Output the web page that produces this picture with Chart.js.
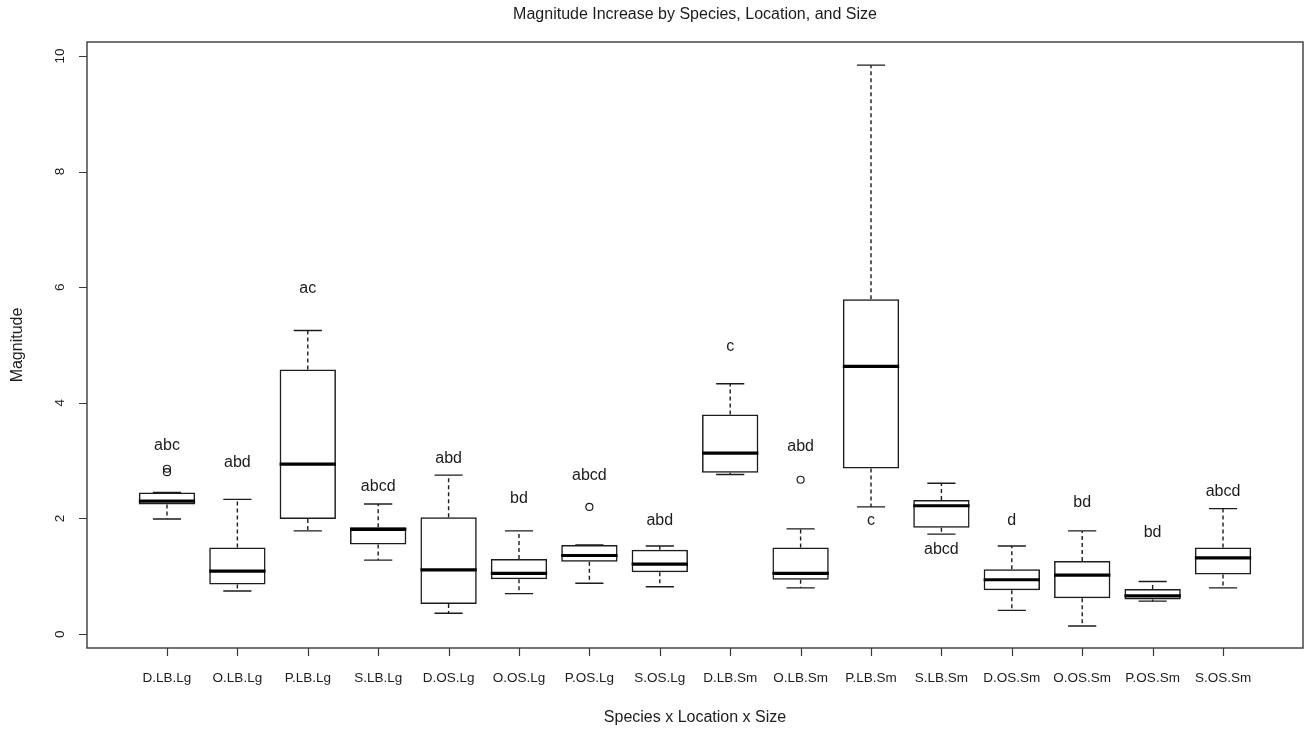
<!DOCTYPE html>
<html>
<head>
<meta charset="utf-8">
<script src="https://cdn.jsdelivr.net/npm/chart.js@4.4.1/dist/chart.umd.min.js"></script>
<style>
  html, body { margin: 0; padding: 0; background: #ffffff; }
  #wrap { width: 1311px; height: 730px; }
  canvas { display: block; }
</style>
</head>
<body>
<div id="wrap"><canvas id="chart" width="1311" height="730"></canvas></div>
<script>
// Groups: species x location x size
const categories = ["D.LB.Lg", "O.LB.Lg", "P.LB.Lg", "S.LB.Lg", "D.OS.Lg", "O.OS.Lg", "P.OS.Lg", "S.OS.Lg",
                    "D.LB.Sm", "O.LB.Sm", "P.LB.Sm", "S.LB.Sm", "D.OS.Sm", "O.OS.Sm", "P.OS.Sm", "S.OS.Sm"];

// Five-number summaries per group
const whiskerLow  = [1.99, 0.745, 1.785, 1.28, 0.36, 0.70, 0.88, 0.82, 2.76, 0.80, 2.20, 1.73, 0.41, 0.14, 0.57, 0.80];
const lowerQuart  = [2.24, 0.86, 1.99, 1.55, 0.52, 0.95, 1.25, 1.07, 2.79, 0.94, 2.865, 1.84, 0.76, 0.62, 0.60, 1.03];
const medians     = [2.30, 1.09, 2.94, 1.81, 1.11, 1.05, 1.36, 1.21, 3.13, 1.05, 4.63, 2.22, 0.94, 1.02, 0.66, 1.32];
const upperQuart  = [2.45, 1.50, 4.575, 1.85, 2.02, 1.30, 1.54, 1.46, 3.80, 1.50, 5.79, 2.32, 1.12, 1.265, 0.78, 1.50];
const whiskerHigh = [2.45, 2.33, 5.25, 2.25, 2.75, 1.785, 1.54, 1.525, 4.33, 1.82, 9.84, 2.61, 1.525, 1.785, 0.91, 2.17];

// Points beyond the whiskers
const outliers = [[2.80, 2.86], [], [], [], [], [], [2.20], [], [], [2.67], [], [], [], [], [], []];

// Compact letter display and the height where each is written
const groupLetters = ["abc", "abd", "ac", "abcd", "abd", "bd", "abcd", "abd", "c", "abd", "c", "abcd", "d", "bd", "bd", "abcd"];
const letterY      = [3.26, 2.97, 5.98, 2.55, 3.04, 2.35, 2.75, 1.96, 4.97, 3.25, 1.97, 1.455, 1.96, 2.27, 1.76, 2.46];

const yTicks = [0, 2, 4, 6, 8, 10];

const chartTitle = "Magnitude Increase by Species, Location, and Size";
const xTitle = "Species x Location x Size";
const yTitle = "Magnitude";

const FONT = '"Liberation Sans", Arial, Helvetica, sans-serif';
const INK = "#1c1c1c";

const boxData = categories.map((c, i) => ({ x: i + 1, y: [lowerQuart[i], upperQuart[i]] }));
const outlierData = [];
outliers.forEach((arr, i) => arr.forEach(v => outlierData.push({ x: i + 1, y: v })));

// Whiskers, staples, medians, frame, axes and text
const boxplotDecor = {
  id: "boxplotDecor",
  beforeDatasetsDraw(chart) {
    const ctx = chart.ctx;
    const xs = chart.scales.x, ys = chart.scales.y;
    const bars = chart.getDatasetMeta(0).data;
    ctx.save();
    ctx.strokeStyle = INK;
    ctx.lineWidth = 1.4;
    categories.forEach((c, i) => {
      const cx = xs.getPixelForValue(i + 1);
      const half = bars[i].width / 4;
      const yHi = ys.getPixelForValue(whiskerHigh[i]);
      const yQ3 = ys.getPixelForValue(upperQuart[i]);
      const yQ1 = ys.getPixelForValue(lowerQuart[i]);
      const yLo = ys.getPixelForValue(whiskerLow[i]);
      ctx.setLineDash([4, 3]);
      ctx.beginPath();
      ctx.moveTo(cx, yQ3); ctx.lineTo(cx, yHi);
      ctx.moveTo(cx, yQ1); ctx.lineTo(cx, yLo);
      ctx.stroke();
      ctx.setLineDash([]);
      ctx.beginPath();
      ctx.moveTo(cx - half, yHi); ctx.lineTo(cx + half, yHi);
      ctx.moveTo(cx - half, yLo); ctx.lineTo(cx + half, yLo);
      ctx.stroke();
    });
    ctx.restore();
  },
  afterDatasetsDraw(chart) {
    const ctx = chart.ctx;
    const xs = chart.scales.x, ys = chart.scales.y;
    const area = chart.chartArea;
    const bars = chart.getDatasetMeta(0).data;
    ctx.save();

    // medians
    ctx.strokeStyle = "#000";
    ctx.lineWidth = 3.2;
    categories.forEach((c, i) => {
      const b = bars[i];
      const y = ys.getPixelForValue(medians[i]);
      ctx.beginPath();
      ctx.moveTo(b.x - b.width / 2, y);
      ctx.lineTo(b.x + b.width / 2, y);
      ctx.stroke();
    });

    // group letters
    ctx.fillStyle = INK;
    ctx.font = "16px " + FONT;
    ctx.textAlign = "center";
    ctx.textBaseline = "middle";
    categories.forEach((c, i) => {
      ctx.fillText(groupLetters[i], xs.getPixelForValue(i + 1), ys.getPixelForValue(letterY[i]));
    });

    // plot frame
    ctx.strokeStyle = "#3a3a3a";
    ctx.lineWidth = 1.4;
    ctx.strokeRect(area.left, area.top, area.right - area.left, area.bottom - area.top);

    // y axis ticks and labels
    ctx.strokeStyle = "#3a3a3a";
    ctx.lineWidth = 1.2;
    ctx.beginPath();
    yTicks.forEach(t => {
      const y = Math.round(ys.getPixelForValue(t)) + 0.5;
      ctx.moveTo(area.left, y); ctx.lineTo(area.left - 8, y);
    });
    ctx.stroke();
    ctx.font = "13.5px " + FONT;
    yTicks.forEach(t => {
      const y = ys.getPixelForValue(t);
      ctx.save();
      ctx.translate(60, y);
      ctx.rotate(-Math.PI / 2);
      ctx.textAlign = "center";
      ctx.textBaseline = "middle";
      ctx.fillText(String(t), 0, 0);
      ctx.restore();
    });

    // x axis ticks and labels
    ctx.beginPath();
    categories.forEach((c, i) => {
      const x = Math.round(xs.getPixelForValue(i + 1)) + 0.5;
      ctx.moveTo(x, area.bottom); ctx.lineTo(x, area.bottom + 8);
    });
    ctx.stroke();
    ctx.font = "13.5px " + FONT;
    ctx.textAlign = "center";
    ctx.textBaseline = "middle";
    categories.forEach((c, i) => {
      ctx.fillText(c, xs.getPixelForValue(i + 1), 678);
    });

    // titles
    const midX = (area.left + area.right) / 2;
    const midY = (area.top + area.bottom) / 2;
    ctx.font = "16px " + FONT;
    ctx.fillText(chartTitle, midX, 15);
    ctx.fillText(xTitle, midX, 718);
    ctx.save();
    ctx.translate(18, midY);
    ctx.rotate(-Math.PI / 2);
    ctx.fillText(yTitle, 0, 0);
    ctx.restore();

    ctx.restore();
  }
};

new Chart(document.getElementById("chart"), {
  type: "bar",
  data: {
    datasets: [
      {
        type: "bar",
        data: boxData,
        backgroundColor: "rgba(255,255,255,0)",
        borderColor: INK,
        borderWidth: 1.5,
        borderSkipped: false,
        barPercentage: 0.8,
        categoryPercentage: 1.0,
        order: 2
      },
      {
        type: "scatter",
        data: outlierData,
        pointStyle: "circle",
        pointRadius: 3.5,
        pointBorderWidth: 1.2,
        pointBorderColor: INK,
        pointBackgroundColor: "rgba(255,255,255,0)",
        order: 1
      }
    ]
  },
  options: {
    responsive: false,
    devicePixelRatio: 1,
    animation: false,
    layout: { padding: { left: 87, top: 42, right: 8, bottom: 82 } },
    plugins: { legend: { display: false }, tooltip: { enabled: false }, title: { display: false } },
    scales: {
      x: { type: "linear", min: -0.136, max: 17.136, display: false, offset: false },
      y: { type: "linear", min: -0.24, max: 10.24, display: false }
    }
  },
  plugins: [boxplotDecor]
});
</script>
</body>
</html>
